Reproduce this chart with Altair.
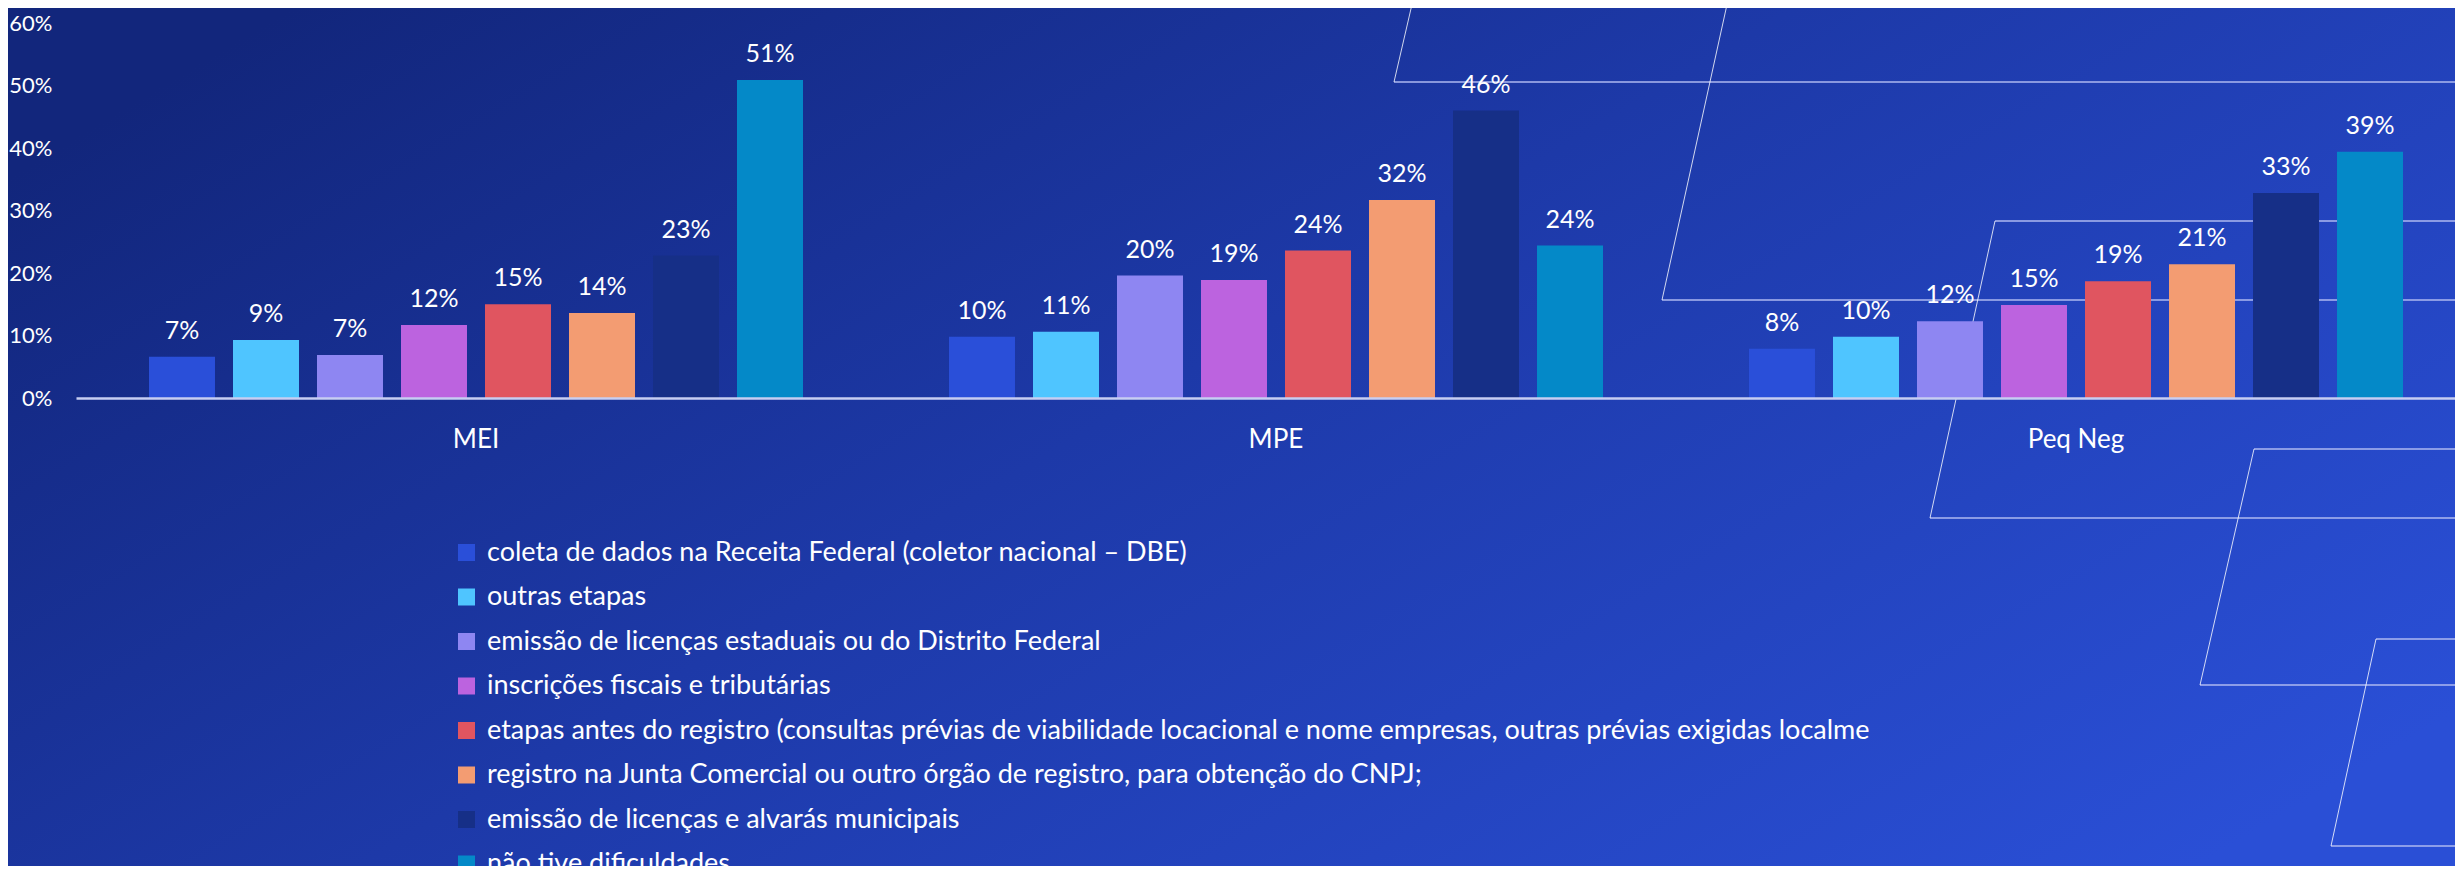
import altair as alt
import pandas as pd

# ---------------- data ----------------
groups = ["MEI", "MPE", "Peq Neg"]

series = [
    "coleta de dados na Receita Federal (coletor nacional – DBE)",
    "outras etapas",
    "emissão de licenças estaduais ou do Distrito Federal",
    "inscrições fiscais e tributárias",
    "etapas antes do registro (consultas prévias de viabilidade locacional e nome empresas, outras prévias exigidas localme",
    "registro na Junta Comercial ou outro órgão de registro, para obtenção do CNPJ;",
    "emissão de licenças e alvarás municipais",
    "não tive dificuldades",
]

mei = [6.6, 9.3, 6.9, 11.7, 15.0, 13.6, 22.8, 50.9]
mpe = [9.8, 10.6, 19.6, 18.9, 23.6, 31.7, 46.0, 24.4]
peq_neg = [7.9, 9.8, 12.3, 14.9, 18.7, 21.4, 32.8, 39.4]

colors = ["#2A4FD9", "#4FC5FF", "#8E86F2", "#BC63DF",
          "#E05560", "#F39C72", "#162F87", "#0489C8"]

y_ticks = [0, 0.1, 0.2, 0.3, 0.4, 0.5, 0.6]

# decorative background outlines (page pixel positions)
h_x1 = [1394, 1662, 1995, 1930, 2254, 2200, 2376, 2331]
h_y = [82, 300, 221, 518, 449, 685, 639, 846]
h_x2 = [2470, 2470, 2470, 2470, 2470, 2470, 2470, 2470]

s_x1 = [1413, 1728, 1995, 2254, 2376]
s_y1 = [0, 0, 221, 449, 639]
s_x2 = [1394, 1662, 1930, 2200, 2331]
s_y2 = [82, 300, 518, 685, 846]

# ---------------- tables ----------------
rows = []
for g, vals in zip(groups, [mei, mpe, peq_neg]):
    for s, v in zip(series, vals):
        rows.append({"group": g, "series": s, "value": v / 100})
df = pd.DataFrame(rows)

h_df = pd.DataFrame({"x": h_x1, "y": h_y, "x2": h_x2, "y2": h_y})
s_df = pd.DataFrame({"x": s_x1, "y": s_y1, "x2": s_x2, "y2": s_y2})

FONT = "Lato"
PLOT_W = 2379
PLOT_H = 375

# ---------------- background ----------------
bg = alt.Chart(pd.DataFrame({"a": [0]})).mark_rect(
    fill=alt.Gradient(
        gradient="linear",
        stops=[
            alt.GradientStop(color="#12267C", offset=0),
            alt.GradientStop(color="#1D39A8", offset=0.45),
            alt.GradientStop(color="#2A4FD6", offset=1),
        ],
        x1=0, y1=0.2, x2=1, y2=0.8,
    )
).encode(
    x=alt.value(-70), x2=alt.value(PLOT_W + 10),
    y=alt.value(-20), y2=alt.value(860),
)

deco_x = alt.Scale(domain=[76, 76 + PLOT_W], nice=False, zero=False)
deco_y = alt.Scale(domain=[23, 398], reverse=True, nice=False, zero=False)

deco_h = alt.Chart(h_df).mark_rule(color="#AEB8F0", strokeWidth=2, opacity=0.75).encode(
    x=alt.X("x:Q", scale=deco_x, axis=None),
    x2="x2:Q",
    y=alt.Y("y:Q", scale=deco_y, axis=None),
    y2="y2:Q",
)
deco_s = alt.Chart(s_df).mark_rule(color="#FFFFFF", strokeWidth=1, opacity=0.8).encode(
    x=alt.X("x:Q", scale=deco_x, axis=None),
    x2="x2:Q",
    y=alt.Y("y:Q", scale=deco_y, axis=None),
    y2="y2:Q",
)
deco = alt.layer(deco_h, deco_s)

# ---------------- bars ----------------
x_enc = alt.X(
    "group:N", sort=groups,
    scale=alt.Scale(range=[0, 2400], paddingInner=0.16, paddingOuter=0.08),
    axis=alt.Axis(title=None, labelAngle=0, labelFont=FONT, labelFontSize=26,
                  labelColor="white", ticks=False, grid=False,
                  domainColor="#C7CEF2", domainWidth=2.5, labelPadding=28,
                  zindex=1),
)
xo_enc = alt.XOffset("series:N", sort=series,
                     scale=alt.Scale(paddingInner=0.2143, paddingOuter=0.1071))
y_enc = alt.Y(
    "value:Q",
    scale=alt.Scale(domain=[0, 0.6], nice=False),
    axis=alt.Axis(title=None, format=".0%", values=y_ticks, labelFont=FONT,
                  labelFontSize=22, labelColor="white", domain=False,
                  ticks=False, grid=False, labelPadding=24, zindex=1),
)

bars = alt.Chart(df).mark_bar().encode(
    x=x_enc,
    xOffset=xo_enc,
    y=y_enc,
    color=alt.Color(
        "series:N", sort=series,
        scale=alt.Scale(domain=series, range=colors),
        legend=alt.Legend(
            title=None, orient="none", direction="vertical",
            legendX=377, legendY=516, padding=0,
            symbolType="square", symbolSize=289, symbolStrokeWidth=0,
            symbolOpacity=1, labelFont=FONT, labelFontSize=27,
            labelColor="white", labelOffset=7, rowPadding=16.5,
            labelLimit=2000, zindex=1,
        ),
    ),
)

labels = alt.Chart(df).mark_text(
    font=FONT, fontSize=25, color="white", baseline="alphabetic", dy=-18
).encode(
    x=alt.X("group:N", sort=groups,
            scale=alt.Scale(range=[0, 2400], paddingInner=0.16, paddingOuter=0.08)),
    xOffset=xo_enc,
    y=alt.Y("value:Q", scale=alt.Scale(domain=[0, 0.6], nice=False)),
    text=alt.Text("value:Q", format=".0%"),
)

main = alt.layer(bars, labels)

chart = alt.layer(bg, deco, main).resolve_scale(
    x="independent", y="independent"
).properties(
    width=PLOT_W,
    height=PLOT_H,
    autosize=alt.AutoSizeParams(type="none"),
    padding={"left": 68, "top": 15, "right": 0, "bottom": 468},
    background="#1A33A0",
).configure_view(stroke=None)

chart.save("out.html", embed_options={"renderer": "svg", "actions": False})
